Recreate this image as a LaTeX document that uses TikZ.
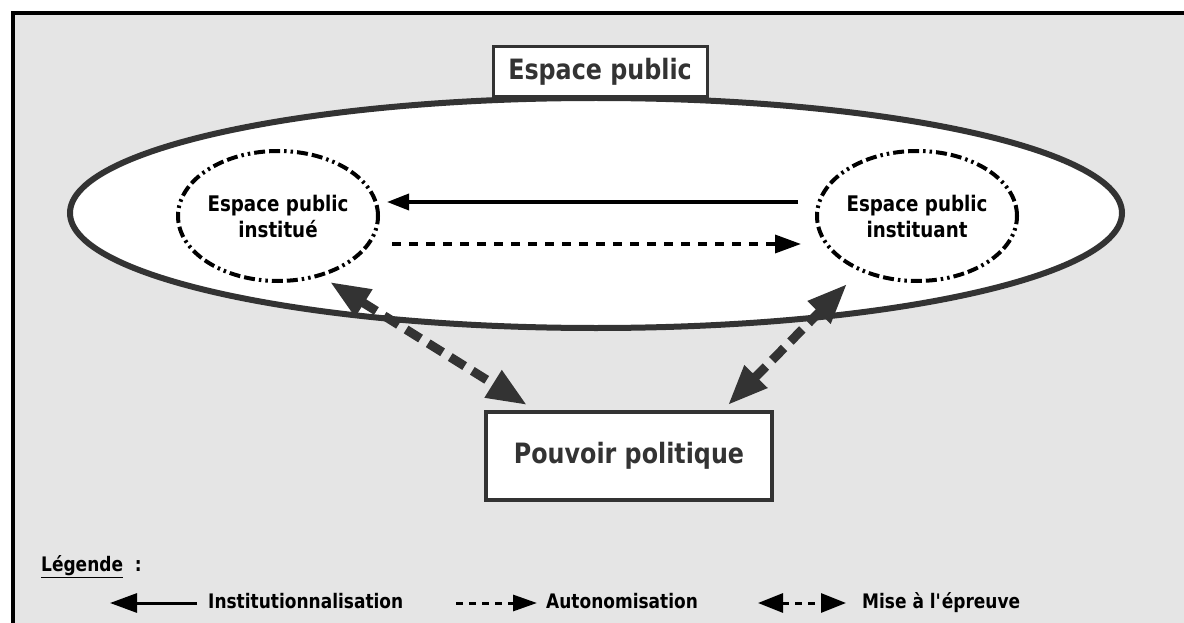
\documentclass[tikz,border=0pt]{standalone}
\usepackage{fontspec}
\setmainfont{DejaVu Sans}[FakeStretch=0.85]
\usetikzlibrary{arrows.meta,shapes.geometric}
\definecolor{bggray}{HTML}{E5E5E5}
\definecolor{dark}{HTML}{333333}
\begin{document}
\begin{tikzpicture}[x=1pt,y=-1pt,
  bigell/.style={ellipse, draw=dark, fill=white, line width=6pt, minimum width=1052pt, minimum height=230pt, inner sep=0pt},
  subell/.style={ellipse, draw=black, fill=white, line width=4pt, minimum width=200pt, minimum height=130pt, inner sep=0pt,
    dash pattern=on 11pt off 4pt on 11pt off 4pt on 2.5pt off 4pt on 2.5pt off 4pt, align=center,
    font=\fontsize{21.5}{26}\selectfont\bfseries},
  hdrbox/.style={draw=dark, fill=white, line width=3pt, minimum width=214pt, minimum height=50pt, inner sep=0pt,
    text=dark, font=\fontsize{28}{30}\selectfont\bfseries},
  powbox/.style={draw=dark, fill=white, line width=4pt, minimum width=286pt, minimum height=88pt, inner sep=0pt,
    text=dark, font=\fontsize{28}{30}\selectfont\bfseries},
  lgd/.style={inner sep=0pt, anchor=west, text height=15pt, text depth=4pt, font=\fontsize{20}{22}\selectfont\bfseries},
  instarr/.style={-{Triangle[length=22pt,width=16pt]}, line width=3.5pt, black},
  autoarr/.style={-{Triangle[length=26pt,width=18pt]}, line width=3.5pt, black, dash pattern=on 9pt off 8pt},
  testarr/.style={{Triangle[length=40pt,width=30pt]}-{Triangle[length=40pt,width=30pt]}, line width=9pt, dark, dash pattern=on 17pt off 9pt},
  lgdsolid/.style={-{Triangle[length=27pt,width=19pt]}, line width=3pt, black},
  lgddash/.style={-{Triangle[length=24pt,width=16pt]}, line width=3pt, black, dash pattern=on 7pt off 6pt},
  lgdboth/.style={{Triangle[length=25pt,width=19pt]}-{Triangle[length=25pt,width=19pt]}, line width=3pt, black, dash pattern=on 7pt off 6pt}
]
\useasboundingbox (0,0) rectangle (1184,623);
\fill[bggray] (13,13) rectangle (1184,623);
\draw[black, line width=4pt] (13,623) -- (13,13) -- (1184,13);

% outer ellipse and header
\node[bigell] (space) at (596,213) {};
\node[hdrbox] (hdr) at (600,72) {Espace public};

% inner spaces
\node[subell] (inst) at (278,216) {Espace public\\institué};
\node[subell] (instg) at (917,216) {Espace public\\instituant};

% power box
\node[powbox] (pow) at (629,456) {Pouvoir politique};

% arrows between inner spaces
\draw[instarr] ([shift={(-17pt,14pt)}]instg.west) -- ([shift={(7pt,14pt)}]inst.east);
\draw[autoarr] ([shift={(12pt,-28pt)}]inst.east) -- ([shift={(-14pt,-28pt)}]instg.west);

% testing arrows
\draw[testarr] ([shift={(52pt,1pt)}]inst.south) -- ([shift={(43pt,5pt)}]pow.north west);
\draw[testarr] ([shift={(-70pt,-1pt)}]instg.south) -- ([shift={(-46pt,5pt)}]pow.north east);

% legend
\node[lgd] (leg) at (41,566) {\underline{Légende}\ \ :};
\node[lgd] (l1) at (208,603) {Institutionnalisation};
\node[lgd] (l2) at (546,603) {Autonomisation};
\node[lgd] (l3) at (862,603) {Mise à l\textquotesingle épreuve};
\draw[lgdsolid] ([xshift=-11pt]l1.west) -- ([xshift=-98pt]l1.west);
\draw[lgddash] ([xshift=-90pt]l2.west) -- ([xshift=-9pt]l2.west);
\draw[lgdboth] ([xshift=-104pt]l3.west) -- ([xshift=-16pt]l3.west);
\end{tikzpicture}
\end{document}
